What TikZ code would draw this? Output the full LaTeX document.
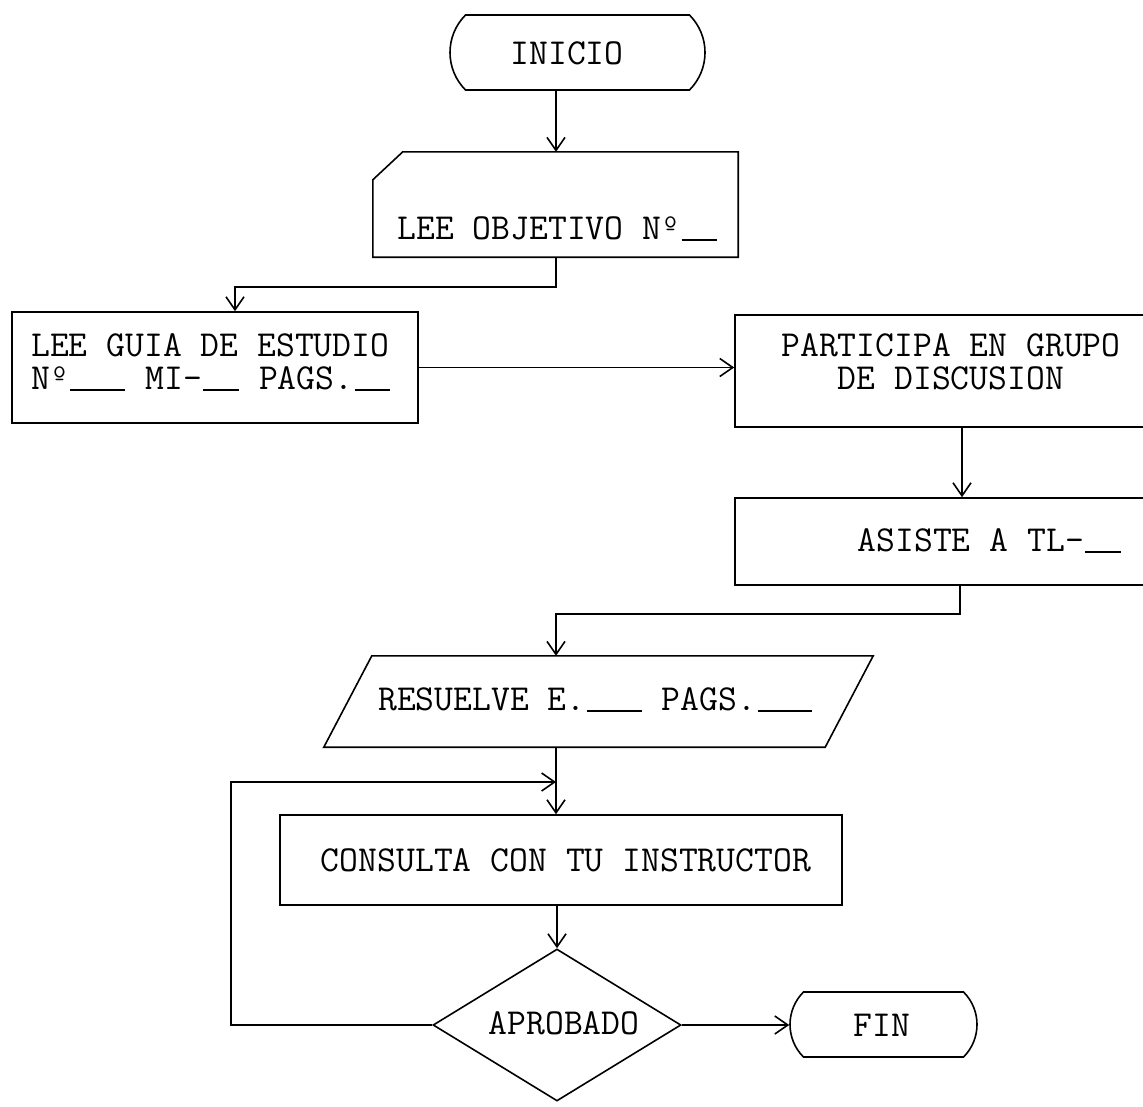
\documentclass[tikz,border=0pt]{standalone}
\usepackage{fontspec}
\usetikzlibrary{arrows.meta,shapes.geometric,shapes.misc,calc}
% typewriter blank: n character cells with a rule on the baseline
\newdimen\blankw
\blankw=19.2pt
\newcommand\blanks[1]{\makebox[#1\blankw][c]{\rule[-2pt]{\dimexpr#1\blankw-3pt\relax}{1.8pt}}}
\begin{document}
\begin{tikzpicture}[x=1pt,y=-1pt,
  every node/.style={font=\ttfamily\fontsize{36.6}{32.5}\selectfont},
  flow/.style={line width=1.6pt},
  arr/.style={flow,-{Straight Barb[length=13pt,width=18pt]}},
  boxnode/.style={draw,line width=1.6pt,rectangle,inner sep=0pt},
  hidden/.style={inner sep=0pt},
  term/.style={draw,line width=1.6pt,rounded rectangle,rounded rectangle arc length=90,inner sep=0pt},
  decision/.style={draw,line width=1.6pt,diamond,inner sep=0pt},
  label/.style={anchor=base,inner sep=0pt}]
\useasboundingbox (0,0) rectangle (1143,1106);
\clip (0,0) rectangle (1143,1106);

% main vertical axis and loop helpers
\coordinate (axis) at (556,0);
\coordinate (loopx) at (231,0);
\coordinate (join) at (556,782);

% start
\node[term, minimum width=255pt, minimum height=75pt] (ini) at (577.5,52.5) {};
\node[label] (init) at (567,64) {INICIO};

% read objective (card with cut corner)
\node[hidden, minimum width=365pt, minimum height=105pt] (obj) at (555.5,204.5) {};
\draw[flow] ([yshift=-28pt]obj.north west) -- ([xshift=30pt]obj.north west)
  -- (obj.north east) -- (obj.south east) -- (obj.south west) -- cycle;
\node[label] (objt) at (558,239) {LEE OBJETIVO Nº\blanks{2}};

% study guide (base anchor sits on the last line)
\node[boxnode, minimum width=406pt, minimum height=111pt] (guia) at (215,367.5) {};
\node[anchor=base west,inner sep=0pt,align=left] (guiat) at (31,389)
  {LEE GUIA DE ESTUDIO\\Nº\blanks{3} MI-\blanks{2} PAGS.\blanks{2}};

% discussion group
\node[boxnode, minimum width=432pt, minimum height=112pt] (part) at (951,371) {};
\node[label,align=center] (partt) at (951,389) {PARTICIPA EN GRUPO\\DE DISCUSION};

% workshop
\node[boxnode, minimum width=432pt, minimum height=87pt] (asi) at (951,541.5) {};
\node[label] (asit) at (990,551) {ASISTE A TL-\blanks{2}};

% exercises (parallelogram)
\node[hidden, minimum width=501pt, minimum height=91pt] (res) at (598.5,701.5) {};
\draw[flow] ([xshift=24pt]res.north west) -- ([xshift=24pt]res.north east)
  -- ([xshift=-24pt]res.south east) -- ([xshift=-24pt]res.south west) -- cycle;
\node[label] (rest) at (596,710) {RESUELVE E.\blanks{3} PAGS.\blanks{3}};

% consult instructor
\node[boxnode, minimum width=562pt, minimum height=90pt] (cons) at (561,860) {};
\node[label] (const) at (566,871) {CONSULTA CON TU INSTRUCTOR};

% decision
\node[decision, minimum width=248pt, minimum height=152pt] (dec) at (557,1025) {};
\node[label] (dect) at (564,1034) {APROBADO};

% end
\node[term, minimum width=187pt, minimum height=65pt] (fin) at (883.5,1024.5) {};
\node[label] (fint) at (882,1036) {FIN};

% connectors
\draw[arr] (ini.south -| axis) -- (obj.north -| axis);
\draw[arr] (obj.south -| axis) -- ++(0,30) -| ([xshift=20pt]guia.north);
\draw[arr] (guia.east) -- (guia.east -| part.west);
\draw[arr] ([xshift=11pt]part.south) -- ([xshift=11pt]asi.north);
\draw[arr] ([xshift=9pt]asi.south) -- ++(0,28) -| (res.north -| axis);
\draw[arr] (res.south -| axis) -- (cons.north -| axis);
\draw[arr] (cons.south -| dec.north) -- (dec.north);
\draw[arr] (dec.west) -- (dec.west -| loopx) |- (join);
\draw[arr] (dec.east) -- (dec.east -| fin.west);
\end{tikzpicture}
\end{document}
